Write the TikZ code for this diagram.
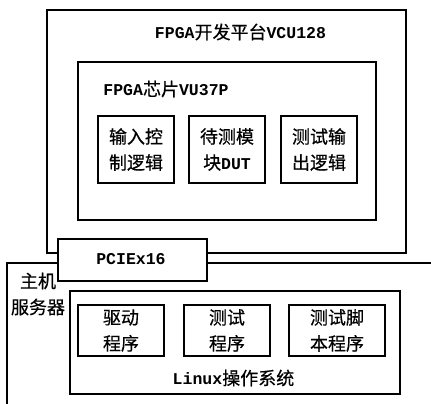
\documentclass[tikz,border=0pt]{standalone}
\usepackage{fontspec}
\setmainfont{Liberation Mono}[BoldFont={Liberation Mono Bold}]
\newfontfamily\cjk{Noto Sans CJK SC}[BoldFont={Noto Sans CJK SC},BoldFeatures={FakeBold=0.5}]
\newcommand{\zh}[1]{{\cjk\bfseries\fontsize{18}{26}\selectfont #1}}
\begin{document}
\begin{tikzpicture}[x=1pt,y=-1pt,
  box/.style={draw,line width=1.2pt,fill=white,rectangle,inner sep=0pt},
  txt/.style={font=\fontsize{16.5}{26}\selectfont\bfseries,align=center,inner sep=0pt}]
\useasboundingbox (0,0) rectangle (431,404);
% host server (open box)
\coordinate (hTR) at (431,263);
\coordinate (hTL) at (7,263);
\coordinate (hBL) at (7,404);
\draw[line width=1.2pt] (hTR) -- (hTL) -- (hBL);
% FPGA platform
\node[box,minimum width=359pt,minimum height=243pt] (plat) at (226.5,131.5) {};
\node[txt] (platlbl) at (240.5,32) {FPGA\zh{开发平台}VCU128};
% chip
\node[box,minimum width=298pt,minimum height=158pt] (chip) at (227,141) {};
\node[txt] (chiplbl) at (166,89) {FPGA\zh{芯片}VU37P};
% modules
\node[box,minimum width=76pt,minimum height=67pt] (m1) at (136,149.5) {};
\node[box,minimum width=76pt,minimum height=67pt] (m2) at (227,149.5) {};
\node[box,minimum width=76pt,minimum height=67pt] (m3) at (319,149.5) {};
\node[txt] at (m1) {\zh{输入控}\\\zh{制逻辑}};
\node[txt] at (m2) {\zh{待测模}\\\zh{块}DUT};
\node[txt] at (m3) {\zh{测试输}\\\zh{出逻辑}};
% PCIe
\node[box,minimum width=149pt,minimum height=42pt] (pcie) at (132.5,260) {};
\node[txt] at (131,259) {PCIEx16};
% host label
\node[txt] (hostlbl) at (38,294) {\zh{主机}\\\zh{服务器}};
% Linux
\node[box,minimum width=330pt,minimum height=103pt] (linux) at (235,342.5) {};
\node[txt] (linuxlbl) at (233.5,378) {Linux\zh{操作系统}};
\node[box,minimum width=86pt,minimum height=51pt] (p1) at (121,330.5) {};
\node[box,minimum width=86pt,minimum height=51pt] (p2) at (227,330.5) {};
\node[box,minimum width=96pt,minimum height=51pt] (p3) at (337,330.5) {};
\node[txt] at (p1) {\zh{驱动}\\\zh{程序}};
\node[txt] at (p2) {\zh{测试}\\\zh{程序}};
\node[txt] at (p3) {\zh{测试脚}\\\zh{本程序}};
\end{tikzpicture}
\end{document}
